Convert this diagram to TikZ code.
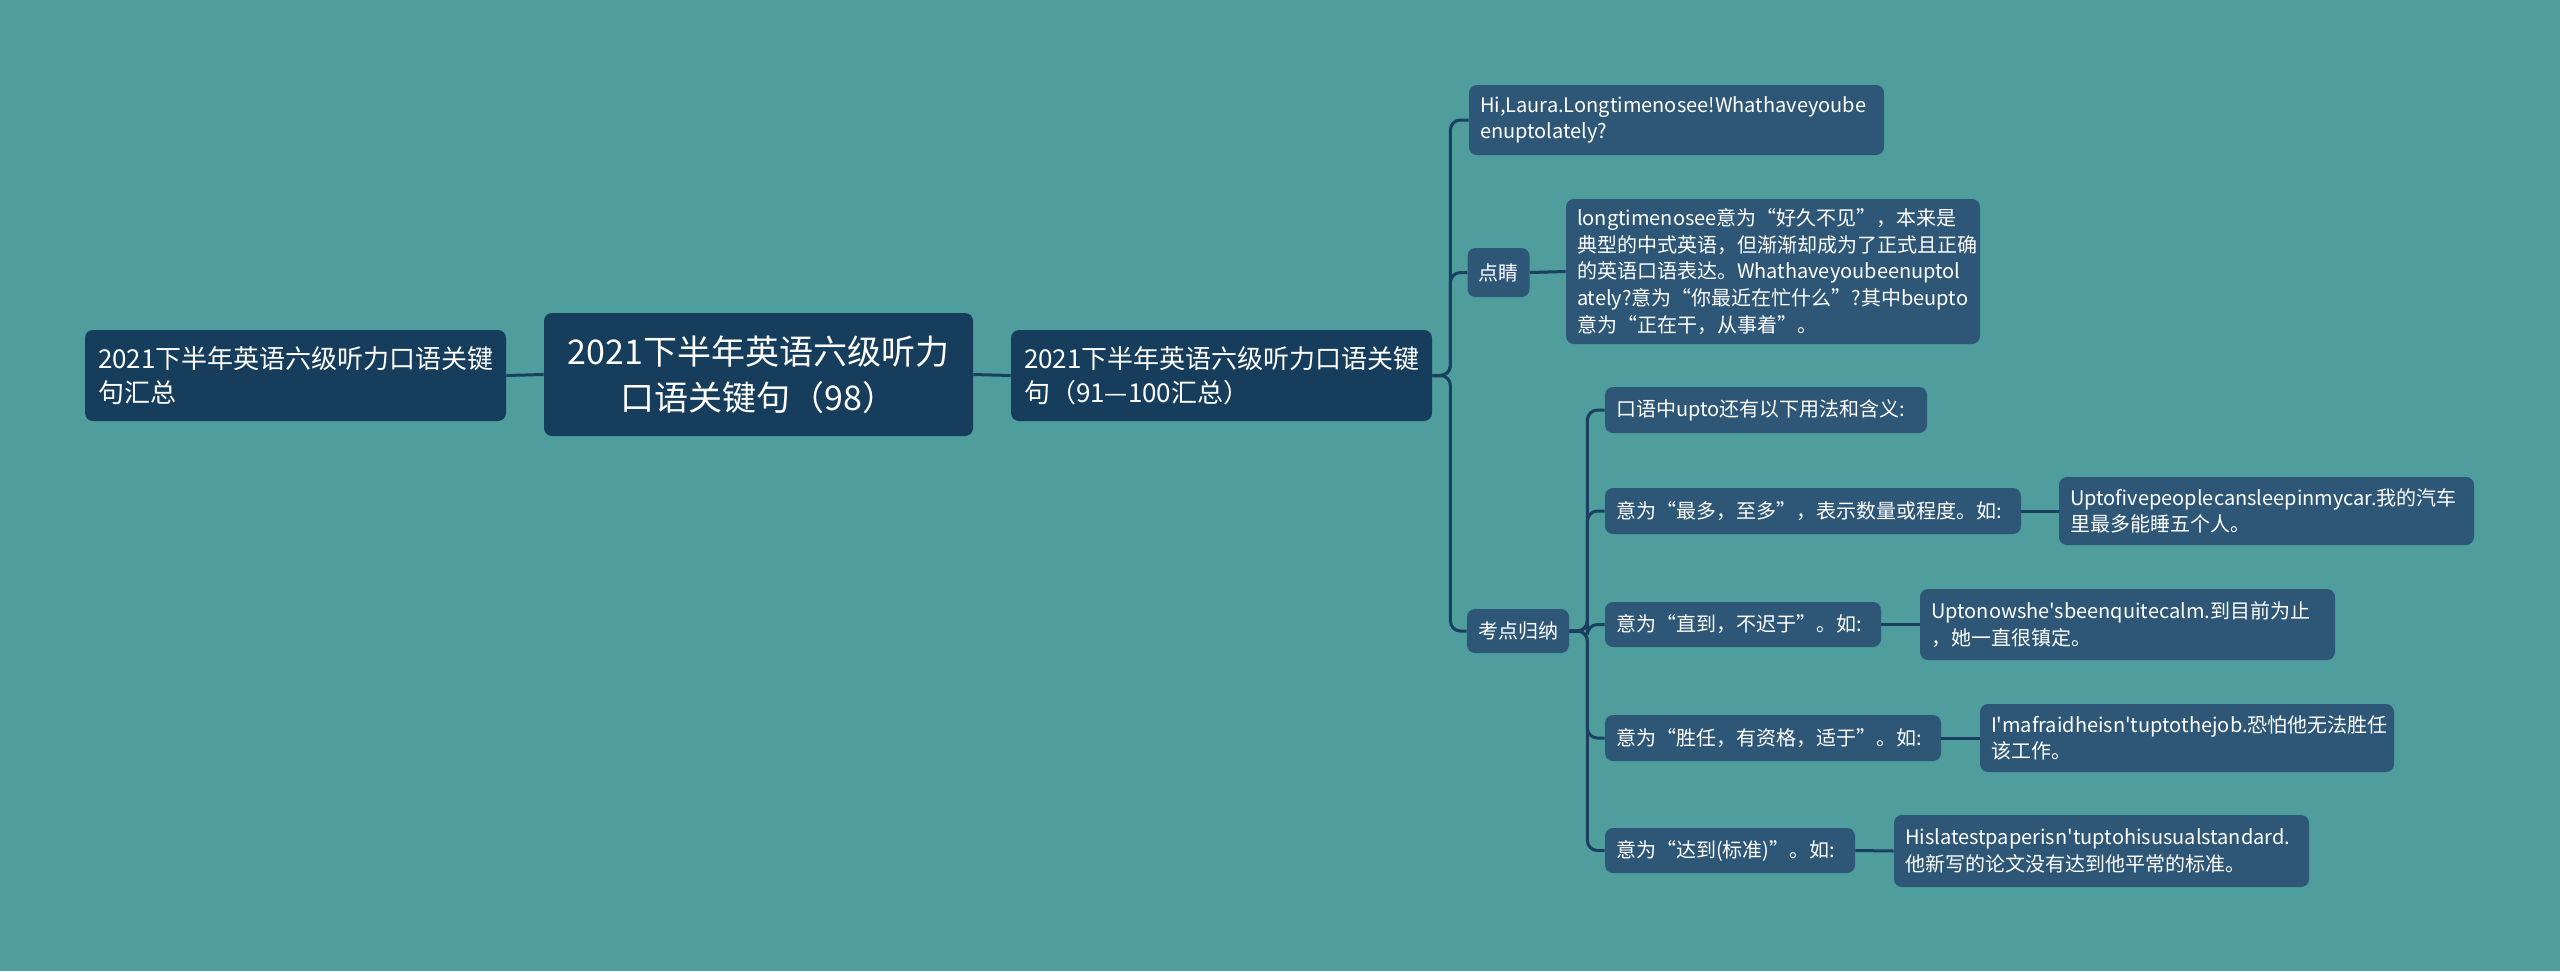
\documentclass[tikz,border=0pt]{standalone}
\usepackage{fontspec}
\setmainfont{Noto Sans CJK SC}[Ligatures=TeXOff]
\definecolor{bgc}{HTML}{4F9D9D}
\definecolor{darkc}{HTML}{173D5D}
\definecolor{leafc}{HTML}{2E5777}
\definecolor{linec}{HTML}{1A3F5F}
\tikzset{
  box/.style={rounded corners=4pt, text=white, align=left, inner xsep=5.5pt, inner ysep=0pt},
  bigbox/.style={box, fill=darkc, font=\fontsize{13pt}{17pt}\selectfont, inner xsep=6.5pt},
  rootbox/.style={box, fill=darkc, align=center, font=\fontsize{17pt}{23pt}\selectfont},
  leafbox/.style={box, fill=leafc, font=\fontsize{10pt}{13.3pt}\selectfont},
  conn/.style={draw=linec, line width=1.5pt, rounded corners=5pt},
  sz/.style n args={3}{minimum width=#1pt, minimum height=#2pt, text width=#3pt}
}
\begin{document}
\begin{tikzpicture}[x=0.5pt,y=-0.5pt]
\useasboundingbox (0,0) rectangle (2560,971);
\fill[bgc] (0,0) rectangle (2560,971);

\node[bigbox, sz={210.5}{45.5}{197.5}] (left) at (295.5,375.5) {2021下半年英语六级听力口语关键\\句汇总};
\node[rootbox, minimum width=214.5pt, minimum height=61.5pt] (root) at (758.5,374.5) {2021下半年英语六级听力\\口语关键句（98）};
\node[bigbox, sz={210.5}{45.5}{197.5}] (l1) at (1221.5,375.5) {2021下半年英语六级听力口语关键\\句（91—100汇总）};

\node[leafbox, sz={207.5}{35}{196.5}] (hi) at (1676.5,120) {Hi,Laura.Longtimenosee!Whathaveyoube\\enuptolately?};
\node[leafbox, align=center, minimum width=29.5pt, minimum height=24.5pt] (dj) at (1498.5,272.5) {点睛};
\node[leafbox, sz={207}{72.5}{196}] (long) at (1773,271.5) {longtimenosee意为“好久不见”，本来是\\典型的中式英语，但渐渐却成为了正式且正确\\的英语口语表达。Whathaveyoubeenuptol\\ately?意为“你最近在忙什么”?其中beupto\\意为“正在干，从事着”。};
\node[leafbox, align=center, minimum width=49pt, minimum height=22pt] (kd) at (1518,631) {考点归纳};

\node[leafbox, sz={161}{23}{150}] (k1) at (1766,410) {口语中upto还有以下用法和含义:};
\node[leafbox, sz={208}{23}{197}] (k2) at (1813,511) {意为“最多，至多”，表示数量或程度。如:};
\node[leafbox, sz={207.5}{34}{196.5}] (e2) at (2266.5,511) {Uptofivepeoplecansleepinmycar.我的汽车\\里最多能睡五个人。};
\node[leafbox, sz={138}{22.5}{127}] (k3) at (1743,624.5) {意为“直到，不迟于”。如:};
\node[leafbox, sz={207.5}{35.5}{196.5}] (e3) at (2127.5,624.5) {Uptonowshe's\hspace{0pt}beenquitecalm.到目前为止\\，她一直很镇定。};
\node[leafbox, sz={168}{23}{157}] (k4) at (1773,738) {意为“胜任，有资格，适于”。如:};
\node[leafbox, sz={207}{34}{196}] (e4) at (2187,738) {I'mafraidheisn'tuptothejob.恐怕他无法胜任\\该工作。};
\node[leafbox, sz={125}{22.5}{114}] (k5) at (1730,850.5) {意为“达到(标准)”。如:};
\node[leafbox, sz={207.5}{36}{196.5}] (e5) at (2101.5,851) {Hislatestpaperisn'tuptohisusualstandard.\\他新写的论文没有达到他平常的标准。};

\draw[conn] (left.east) -- (root.west);
\draw[conn] (root.east) -- (l1.west);
\draw[conn] (l1.east) -- ++(18,0) |- (hi.west);
\draw[conn] (l1.east) -- ++(18,0) |- (dj.west);
\draw[conn] (l1.east) -- ++(18,0) |- (kd.west);
\draw[conn] (dj.east) -- (long.west);
\draw[conn] (kd.east) -- ++(18,0) |- (k1.west);
\draw[conn] (kd.east) -- ++(18,0) |- (k2.west);
\draw[conn] (kd.east) -- ++(18,0) |- (k3.west);
\draw[conn] (kd.east) -- ++(18,0) |- (k4.west);
\draw[conn] (kd.east) -- ++(18,0) |- (k5.west);
\draw[conn] (k2.east) -- (e2.west);
\draw[conn] (k3.east) -- (e3.west);
\draw[conn] (k4.east) -- (e4.west);
\draw[conn] (k5.east) -- (e5.west);
\end{tikzpicture}
\end{document}
